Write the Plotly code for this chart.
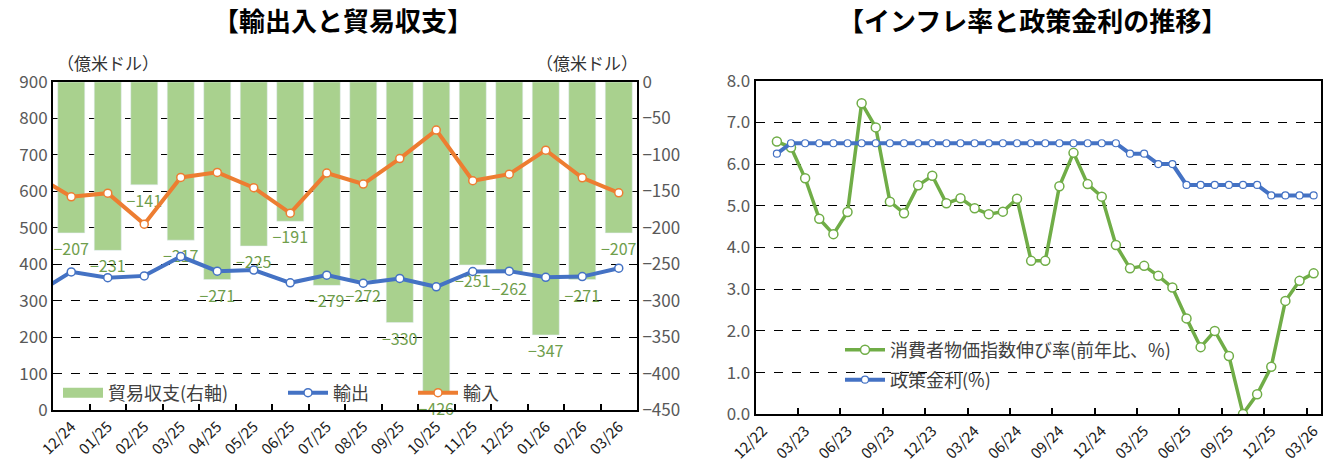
import plotly.graph_objects as go

# left chart: trade (億米ドル)
trade_months = ["11/24", "12/24", "01/25", "02/25", "03/25", "04/25", "05/25", "06/25", "07/25",
                "08/25", "09/25", "10/25", "11/25", "12/25", "01/26", "02/26", "03/26"]
balance = [None, -207, -231, -141, -217, -271, -225, -191, -279, -272, -330, -426, -251, -262, -347, -271, -207]
exports = [317, 379, 363, 368, 421, 381, 384, 349, 370, 348, 361, 338, 380, 381, 364, 366, 389]
imports = [645, 585, 595, 510, 638, 652, 610, 540, 650, 620, 690, 768, 629, 647, 713, 637, 596]

# right chart: inflation and policy rate (%)
rate_months = ["12/22", "01/23", "02/23", "03/23", "04/23", "05/23", "06/23", "07/23", "08/23", "09/23",
               "10/23", "11/23", "12/23", "01/24", "02/24", "03/24", "04/24", "05/24", "06/24", "07/24",
               "08/24", "09/24", "10/24", "11/24", "12/24", "01/25", "02/25", "03/25", "04/25", "05/25",
               "06/25", "07/25", "08/25", "09/25", "10/25", "11/25", "12/25", "01/26", "02/26", "03/26"]
cpi = [None, 6.54, 6.40, 5.66, 4.69, 4.32, 4.85, 7.46, 6.88, 5.10,
       4.82, 5.49, 5.72, 5.06, 5.18, 4.94, 4.80, 4.86, 5.17, 3.68,
       3.68, 5.47, 6.27, 5.52, 5.22, 4.06, 3.50, 3.56, 3.32, 3.04,
       2.30, 1.61, 2.00, 1.40, 0.01, 0.48, 1.14, 2.72, 3.20, 3.38]
policy = [None, 6.25, 6.50, 6.50, 6.50, 6.50, 6.50, 6.50, 6.50, 6.50,
          6.50, 6.50, 6.50, 6.50, 6.50, 6.50, 6.50, 6.50, 6.50, 6.50,
          6.50, 6.50, 6.50, 6.50, 6.50, 6.50, 6.25, 6.25, 6.00, 6.00,
          5.50, 5.50, 5.50, 5.50, 5.50, 5.50, 5.25, 5.25, 5.25, 5.25]

FONT = "Noto Sans CJK JP"
W, H = 1328, 467
BAR = "#a9d18e"
GREEN = "#70ad47"
BLUE = "#4472c4"
ORANGE = "#ed7d31"

tx = list(range(-1, len(trade_months) - 1))
rx = list(range(len(rate_months)))

fig = go.Figure()

# bars on primary axis (drawn below the overlaid line axis)
fig.add_trace(go.Bar(x=tx, y=balance, xaxis="x", yaxis="y", marker_color=BAR, width=0.74,
                     text=[None if v is None else f"\u2212{abs(v)}" for v in balance],
                     textposition="outside", cliponaxis=False, constraintext="none",
                     textfont=dict(color="#6f9e4c", size=16, family=FONT),
                     showlegend=False, hoverinfo="skip"))
# legend swatch for the bars
fig.add_trace(go.Scatter(x=[None], y=[None], xaxis="x", yaxis="y", mode="lines",
                         line=dict(color=BAR, width=10), name="貿易収支(右軸)", legend="legend"))
fig.add_trace(go.Scatter(x=tx, y=exports, xaxis="x", yaxis="y2", mode="lines+markers", name="輸出",
                         line=dict(color=BLUE, width=4),
                         marker=dict(symbol="circle", size=8, color="white", line=dict(color=BLUE, width=1.5)),
                         legend="legend2"))
fig.add_trace(go.Scatter(x=tx, y=imports, xaxis="x", yaxis="y2", mode="lines+markers", name="輸入",
                         line=dict(color=ORANGE, width=4),
                         marker=dict(symbol="circle", size=8, color="white", line=dict(color=ORANGE, width=1.5)),
                         legend="legend3"))

fig.add_trace(go.Scatter(x=rx, y=cpi, xaxis="x2", yaxis="y3", mode="lines+markers",
                         name="消費者物価指数伸び率(前年比、%)",
                         line=dict(color=GREEN, width=3.5),
                         marker=dict(symbol="circle", size=9, color="white", line=dict(color=GREEN, width=1.5)),
                         legend="legend4"))
fig.add_trace(go.Scatter(x=rx, y=policy, xaxis="x2", yaxis="y3", mode="lines+markers",
                         name="政策金利(%)",
                         line=dict(color=BLUE, width=4),
                         marker=dict(symbol="circle", size=7, color="white", line=dict(color=BLUE, width=1.2)),
                         legend="legend5"))

axis_line = dict(showline=True, linecolor="black", linewidth=2, mirror=True, zeroline=False, automargin=False)
tickfont = dict(family=FONT, size=17, color="#595959")
xtickfont = dict(family=FONT, size=15, color="#1a1a1a")
grid = dict(showgrid=True, gridcolor="black", griddash="dash", gridwidth=1.3)

n_left = len(trade_months) - 1
n_right = len(rate_months)

fig.update_layout(
    width=W, height=H,
    autosize=False,
    margin=dict(l=0, r=0, t=0, b=0, autoexpand=False),
    paper_bgcolor="white", plot_bgcolor="white",
    font=dict(family=FONT, color="#404040"),
    barmode="overlay",
    xaxis=dict(domain=[53 / W, 637 / W], anchor="y", range=[-0.5, n_left - 0.5],
               tickmode="array", tickvals=list(range(n_left)), ticktext=trade_months[1:],
               tickangle=-45, ticks="", tickfont=xtickfont, showgrid=False,
               minor=dict(tickmode="array", tickvals=[i + 0.5 for i in range(n_left - 1)],
                          ticks="inside", ticklen=6, tickwidth=2, tickcolor="black", showgrid=False),
               **axis_line),
    yaxis=dict(domain=[(H - 410) / H, (H - 82) / H], anchor="x", side="right", range=[-450, 0],
               dtick=50, tickfont=tickfont, ticks="", tickformat="d", **grid, **axis_line),
    yaxis2=dict(overlaying="y", anchor="x", side="left", range=[0, 900], dtick=100,
                tickfont=tickfont, ticks="", showgrid=False, showline=True, linecolor="black",
                linewidth=2, zeroline=False, automargin=False),
    xaxis2=dict(domain=[755.7 / W, 1320.7 / W], anchor="y3", range=[-0.5, n_right - 0.5],
                tickmode="array", tickvals=list(range(0, n_right, 3)), ticktext=rate_months[::3],
                tickangle=-45, ticks="", tickfont=xtickfont, showgrid=False,
                minor=dict(tickmode="array", tickvals=[i - 0.5 for i in range(3, n_right, 3)],
                           ticks="inside", ticklen=6, tickwidth=2, tickcolor="black", showgrid=False),
                **axis_line),
    yaxis3=dict(domain=[(H - 414.3) / H, (H - 80.7) / H], anchor="x2", range=[0, 8], dtick=1,
                tickformat=".1f", tickfont=tickfont, ticks="", **grid, **axis_line),
)

legend_common = dict(orientation="h", bgcolor="rgba(0,0,0,0)", itemwidth=40, yanchor="middle",
                     xanchor="left", font=dict(family=FONT, size=18, color="#404040"))
fig.update_layout(
    legend=dict(x=58 / W, y=(H - 393) / H, **legend_common),
    legend2=dict(x=283 / W, y=(H - 393) / H, **legend_common),
    legend3=dict(x=413 / W, y=(H - 393) / H, **legend_common),
    legend4=dict(x=840 / W, y=(H - 350) / H, **legend_common),
    legend5=dict(x=840 / W, y=(H - 380) / H, **legend_common),
)

fig.add_annotation(text="<b>【輸出入と貿易収支】</b>", x=343 / W, y=(H - 20) / H, xref="paper", yref="paper",
                   xanchor="center", yanchor="middle",
                   showarrow=False, font=dict(family=FONT, size=26, color="black"))
fig.add_annotation(text="<b>【インフレ率と政策金利の推移】</b>", x=1032 / W, y=(H - 20) / H, xref="paper",
                   yref="paper", xanchor="center", yanchor="middle",
                   showarrow=False, font=dict(family=FONT, size=26, color="black"))
fig.add_annotation(text="（億米ドル）", x=55 / W, y=(H - 62) / H, xref="paper", yref="paper",
                   xanchor="left", yanchor="middle", showarrow=False,
                   font=dict(family=FONT, size=17, color="#333333"))
fig.add_annotation(text="（億米ドル）", x=640 / W, y=(H - 62) / H, xref="paper", yref="paper",
                   xanchor="right", yanchor="middle", showarrow=False,
                   font=dict(family=FONT, size=17, color="#333333"))

fig.write_html("out.html", config={"displayModeBar": False},
               post_script="document.body.style.margin='0';")
